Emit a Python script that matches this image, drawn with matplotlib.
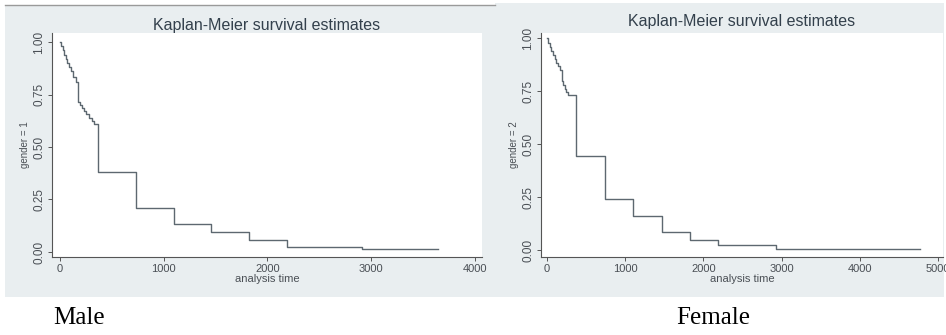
import matplotlib
matplotlib.use('Agg')
import matplotlib.pyplot as plt

# Kaplan-Meier estimates (time, survival, step-post)
male_time = [0, 12, 25, 40, 55, 70, 90, 110, 130, 150, 177, 195, 215, 235, 255, 280, 305, 330,
             370, 733, 1099, 1453, 1826, 2186, 2909, 3648]
male_surv = [1.0, 0.98, 0.96, 0.94, 0.92, 0.90, 0.88, 0.86, 0.835, 0.81, 0.716, 0.70, 0.685,
             0.67, 0.655, 0.64, 0.625, 0.61, 0.383, 0.208, 0.133, 0.097, 0.057, 0.025, 0.013, 0.013]

female_time = [0, 20, 40, 60, 80, 100, 120, 140, 170, 191, 210, 230, 250, 277,
               374, 745, 1098, 1468, 1830, 2192, 2928, 4767]
female_surv = [1.0, 0.98, 0.96, 0.94, 0.92, 0.90, 0.885, 0.87, 0.85, 0.80, 0.78, 0.76, 0.745, 0.732,
               0.445, 0.244, 0.161, 0.087, 0.047, 0.024, 0.008, 0.008]

y_ticks = [0, 0.25, 0.5, 0.75, 1.0]
y_ticklabels = ['0.00', '0.25', '0.50', '0.75', '1.00']
male_xticks = [0, 1000, 2000, 3000, 4000]
female_xticks = [0, 1000, 2000, 3000, 4000, 5000]
title = 'Kaplan-Meier survival estimates'
captions = ['Male', 'Female']

W, H = 946, 335
BG = '#e9eef0'
LINE = '#5d6870'
TXT = '#4a4f55'

plt.rcParams['font.family'] = ['Liberation Sans', 'DejaVu Sans']

fig = plt.figure(figsize=(W / 100, H / 100), dpi=100)
fig.patch.set_facecolor('white')


def px_rect(x0, y0, x1, y1):
    # pixel box (top-left origin) -> figure fraction [left, bottom, width, height]
    return [x0 / W, 1 - y1 / H, (x1 - x0) / W, (y1 - y0) / H]


def panel(box, plot_box, t, s, xticks, xlim, ylim, ylab, title_pad):
    bg = fig.add_axes(px_rect(*box), zorder=0)
    bg.set_facecolor(BG)
    bg.set_xticks([])
    bg.set_yticks([])
    for sp in bg.spines.values():
        sp.set_visible(False)

    ax = fig.add_axes(px_rect(*plot_box), zorder=1)
    ax.set_facecolor('white')
    ax.step(t, s, where='post', color=LINE, lw=1.0)
    ax.set_xlim(*xlim)
    ax.set_ylim(*ylim)
    ax.set_xticks(xticks)
    ax.set_xticklabels([str(v) for v in xticks], fontsize=8, color=TXT)
    ax.set_yticks(y_ticks)
    ax.set_yticklabels(y_ticklabels, fontsize=8.5, color=TXT, rotation=90, va='center')
    ax.tick_params(axis='both', direction='out', length=3, width=0.7, color='#555555', pad=2)
    for side in ['top', 'right']:
        ax.spines[side].set_visible(False)
    for side in ['left', 'bottom']:
        ax.spines[side].set_color('#555555')
        ax.spines[side].set_linewidth(0.8)
    ax.set_xlabel('analysis time', fontsize=8, color=TXT, labelpad=0)
    ax.set_ylabel(ylab, fontsize=7, color=TXT, labelpad=2)
    ax.set_title(title, fontsize=11.5, color='#33404c', pad=title_pad)
    return ax


panel((5, 5, 495, 297), (52, 33, 482, 257), male_time, male_surv, male_xticks,
      (-77, 4069), (-0.024, 1.043), 'gender = 1', 2)
panel((495, 3, 944, 297), (541, 33, 943, 257), female_time, female_surv, female_xticks,
      (-73, 5061), (-0.032, 1.025), 'gender = 2', 5)

# thin border line along the top of the left panel
fig.add_artist(plt.Line2D([5 / W, 495 / W], [1 - 5 / H, 1 - 5 / H], transform=fig.transFigure,
                          color='#9a9a9a', lw=1.0, zorder=3))

fig.text(53 / W, 1 - 318 / H, captions[0], fontsize=18, family='Liberation Serif',
         ha='left', va='center', color='black')
fig.text(676 / W, 1 - 318 / H, captions[1], fontsize=18, family='Liberation Serif',
         ha='left', va='center', color='black')

fig.savefig('out.png', dpi=100, facecolor='white')
